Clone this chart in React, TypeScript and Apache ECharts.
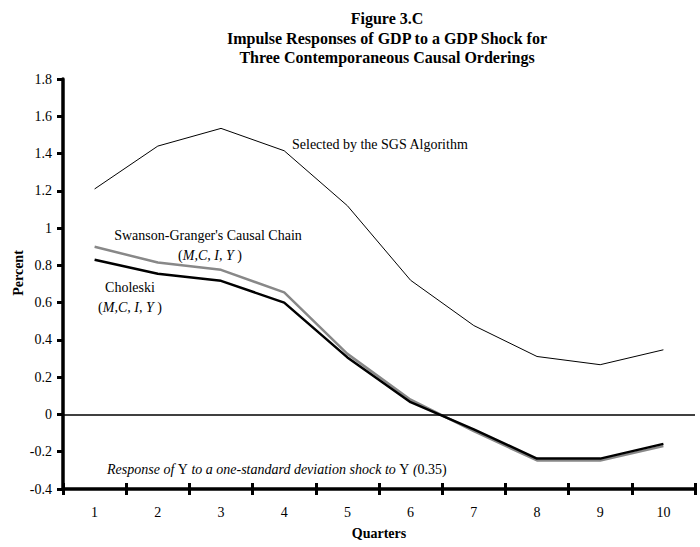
import React, { useEffect, useRef } from "react";
import * as echarts from "echarts";

const quarters = ["1", "2", "3", "4", "5", "6", "7", "8", "9", "10"];
const sgsValues = [1.21, 1.44, 1.535, 1.415, 1.12, 0.72, 0.477, 0.311, 0.267, 0.347];
const swansonValues = [0.9, 0.815, 0.776, 0.655, 0.325, 0.079, -0.09, -0.247, -0.247, -0.17];
const choleskiValues = [0.83, 0.755, 0.717, 0.6, 0.306, 0.066, -0.08, -0.237, -0.237, -0.158];
const titleLines = [
  "Figure 3.C",
  "Impulse Responses of GDP to a GDP Shock for",
  "Three Contemporaneous Causal Orderings",
];

const FONT = '"Liberation Serif", "Times New Roman", serif';

export default function App() {
  const ref = useRef<HTMLDivElement>(null);
  useEffect(() => {
    if (!ref.current) return;
    const chart = echarts.init(ref.current, undefined, { renderer: "svg" });
    const txt = (x: number, y: number, text: string, extra: any = {}) => ({
      type: "text",
      x,
      y,
      style: {
        text,
        fontFamily: FONT,
        fontSize: 14,
        fill: "#000",
        align: "center",
        verticalAlign: "middle",
        ...extra,
      },
    });
    const mci = {
      rich: {
        n: { fontFamily: FONT, fontSize: 14, fill: "#000" },
        i: { fontFamily: FONT, fontSize: 14, fontStyle: "italic", fill: "#000" },
      },
    };
    chart.setOption({
      animation: false,
      backgroundColor: "#fff",
      textStyle: { fontFamily: FONT },
      grid: { left: 63, right: 5, top: 79, bottom: 58, containLabel: false },
      xAxis: [
        {
          type: "category",
          data: quarters,
          boundaryGap: true,
          axisLine: { onZero: false, lineStyle: { color: "#000", width: 3.5 } },
          axisTick: { show: true, inside: false, length: 6, lineStyle: { color: "#000", width: 3 } },
          axisLabel: { color: "#000", fontSize: 14, fontFamily: FONT, margin: 16 },
          splitLine: { show: false },
        },
        {
          type: "category",
          data: quarters,
          position: "bottom",
          boundaryGap: true,
          axisLine: { show: false, onZero: false },
          axisTick: { show: true, inside: true, length: 6, lineStyle: { color: "#000", width: 3 } },
          axisLabel: { show: false },
          splitLine: { show: false },
        },
      ],
      yAxis: {
        type: "value",
        min: -0.4,
        max: 1.8,
        interval: 0.2,
        axisLine: { show: true, onZero: false, lineStyle: { color: "#000", width: 3.5 } },
        axisTick: { show: true, length: 6, lineStyle: { color: "#000", width: 3 } },
        axisLabel: { color: "#000", fontSize: 14, fontFamily: FONT, margin: 11 },
        splitLine: { show: false },
      },
      series: [
        {
          name: "Selected by the SGS Algorithm",
          type: "line",
          data: sgsValues,
          symbol: "none",
          lineStyle: { color: "#000", width: 1 },
          markLine: {
            silent: true,
            symbol: "none",
            label: { show: false },
            lineStyle: { color: "#000", width: 1.5, type: "solid" },
            data: [{ yAxis: 0 }],
          },
        },
        {
          name: "Swanson-Granger's Causal Chain",
          type: "line",
          data: swansonValues,
          symbol: "none",
          lineStyle: { color: "#888", width: 2.5 },
        },
        {
          name: "Choleski",
          type: "line",
          data: choleskiValues,
          symbol: "none",
          lineStyle: { color: "#000", width: 2.5 },
        },
      ],
      graphic: [
        txt(387, 18, titleLines[0], { fontWeight: "bold", fontSize: 16 }),
        txt(387, 38, titleLines[1], { fontWeight: "bold", fontSize: 16 }),
        txt(387, 57, titleLines[2], { fontWeight: "bold", fontSize: 16 }),
        txt(292, 144, "Selected by the SGS Algorithm", { align: "left" }),
        txt(208, 235, "Swanson-Granger's Causal Chain"),
        txt(210, 255, "{n|(}{i|M,C, I, Y }{n|)}", mci),
        txt(130, 287, "Choleski"),
        txt(130, 307, "{n|(}{i|M,C, I, Y }{n|)}", mci),
        txt(
          107,
          469,
          "{i|Response of }{n|Y}{i| to a one-standard deviation shock to }{n|Y}{i| (}{n|0.35)}",
          { align: "left", ...mci }
        ),
        {
          type: "text",
          x: 18,
          y: 273,
          rotation: Math.PI / 2,
          style: {
            text: "Percent",
            fontFamily: FONT,
            fontSize: 14,
            fontWeight: "bold",
            fill: "#000",
            align: "center",
            verticalAlign: "middle",
          },
        },
        txt(379, 533, "Quarters", { fontWeight: "bold" }),
      ],
    });
    return () => chart.dispose();
  }, []);
  return (
    <div
      ref={ref}
      style={{ position: "absolute", left: 0, top: 0, width: 700, height: 547, background: "#fff" }}
    />
  );
}
